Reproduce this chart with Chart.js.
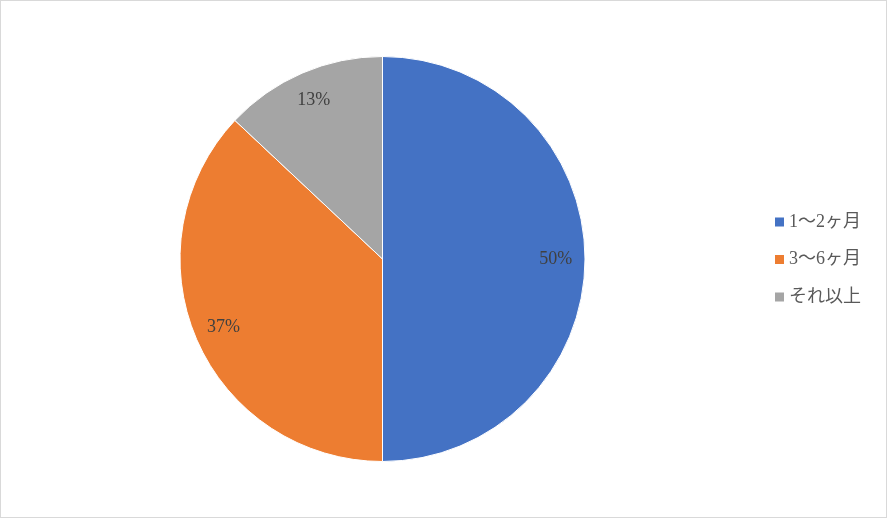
<!DOCTYPE html>
<html>
<head>
<meta charset="utf-8">
<script src="https://cdn.jsdelivr.net/npm/chart.js@4/dist/chart.umd.min.js"></script>
<style>
  html, body { margin: 0; padding: 0; background: #fff; }
  canvas { display: block; }
</style>
</head>
<body>
<canvas id="chart-period" width="888" height="519"></canvas>
<script>
// values (percent shares)
const periodLabels = ["1～2ヶ月", "3～6ヶ月", "それ以上"];
const periodValues = [50, 37, 13];
const periodColors = ["#4472C4", "#ED7D31", "#A5A5A5"];

const FONT = '"Liberation Serif", "Noto Sans CJK JP", serif';

// percent labels inside each slice, like excel's "inside end"
const sliceLabels = {
  id: "sliceLabels",
  afterDatasetsDraw(chart) {
    const ctx = chart.ctx;
    const meta = chart.getDatasetMeta(0);
    const total = periodValues.reduce((acc, v) => acc + v, 0);
    ctx.save();
    ctx.font = "18px " + FONT;
    ctx.fillStyle = "#404040";
    ctx.textAlign = "center";
    ctx.textBaseline = "middle";
    meta.data.forEach((arc, i) => {
      const mid = (arc.startAngle + arc.endAngle) / 2;
      const r = arc.outerRadius * 0.855;
      const x = arc.x + Math.cos(mid) * r;
      const y = arc.y + Math.sin(mid) * r;
      ctx.fillText(Math.round(periodValues[i] / total * 100) + "%", x, y);
    });
    ctx.restore();
  }
};

// legend on the right + outer frame
const sideLegend = {
  id: "sideLegend",
  afterDraw(chart) {
    const ctx = chart.ctx;
    ctx.save();
    ctx.font = "18px " + FONT;
    ctx.textBaseline = "middle";
    ctx.textAlign = "left";
    periodLabels.forEach((label, i) => {
      const y = 222 + i * 37.5;
      ctx.fillStyle = periodColors[i];
      ctx.fillRect(775, y - 4.5, 9, 9);
      ctx.fillStyle = "#595959";
      ctx.fillText(label, 789, y);
    });
    ctx.strokeStyle = "#D9D9D9";
    ctx.lineWidth = 1;
    ctx.strokeRect(0.5, 0.5, 886, 517);
    ctx.restore();
  }
};

new Chart(document.getElementById("chart-period").getContext("2d"), {
  type: "pie",
  data: {
    labels: periodLabels,
    datasets: [
      {
        data: periodValues,
        backgroundColor: periodColors,
        borderColor: "#fff",
        borderWidth: 1,
      },
    ],
  },
  options: {
    responsive: false,
    animation: false,
    layout: {
      padding: { left: 179, right: 302, top: 56, bottom: 57 },
    },
    plugins: {
      legend: { display: false },
      tooltip: { enabled: false },
    },
  },
  plugins: [sliceLabels, sideLegend],
});
</script>
</body>
</html>
